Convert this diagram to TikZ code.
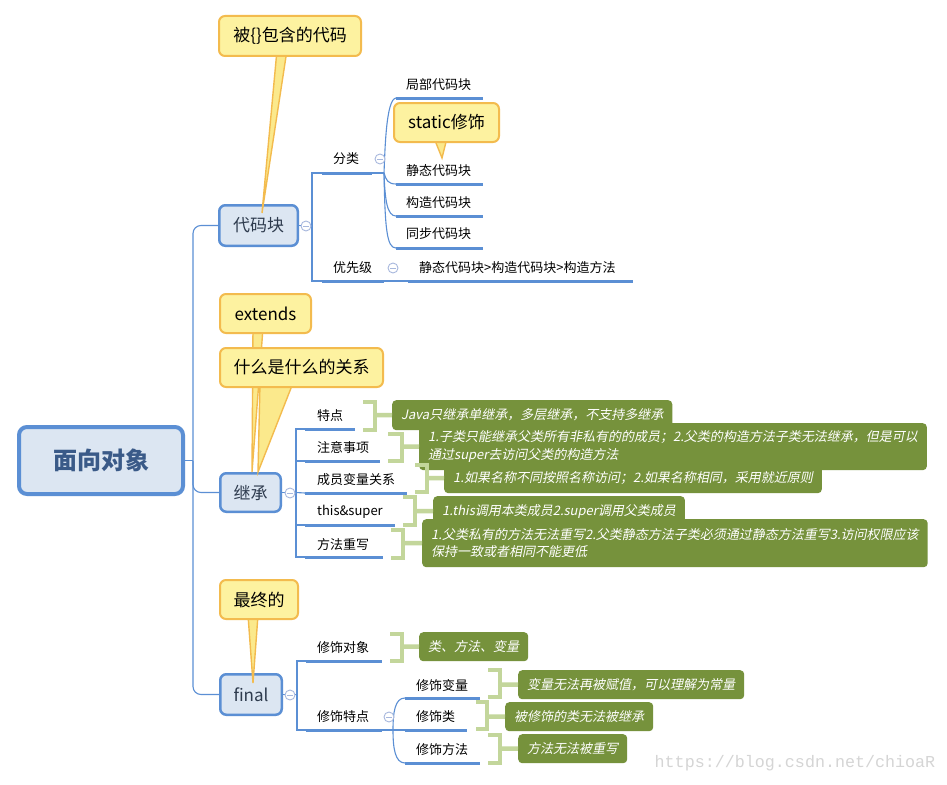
\documentclass[tikz,border=0pt]{standalone}
\usepackage{fontspec}
\setmainfont{Noto Sans CJK SC}
\newfontfamily\gfont{Noto Sans CJK SC}[FakeSlant=0.2]
\newfontfamily\wmfont{Liberation Mono}
\definecolor{lineblue}{HTML}{5B8FD4}
\definecolor{topicfill}{HTML}{DCE6F2}
\definecolor{topictext}{HTML}{2E3B4E}
\definecolor{roottext}{HTML}{3A5A88}
\definecolor{callfill}{HTML}{FDF2A0}
\definecolor{callborder}{HTML}{F3BB4E}
\definecolor{tailfill}{HTML}{FBE98C}
\definecolor{gfill}{HTML}{76923C}
\definecolor{brkgreen}{HTML}{C3D69B}
\definecolor{minuscol}{HTML}{A8B8DD}
\definecolor{wmcol}{HTML}{D5D5D5}
\begin{document}
\begin{tikzpicture}[x=1pt,y=-1pt,
  conn/.style={draw=lineblue,line width=1.1pt},
  uline/.style={draw=lineblue,line width=3pt},
  rootnode/.style={draw=lineblue,fill=topicfill,line width=4pt,rounded corners=8pt,inner sep=0pt,text=roottext,font=\bfseries\fontsize{24}{28}\selectfont},
  topic/.style={draw=lineblue,fill=topicfill,line width=2.5pt,rounded corners=6pt,inner sep=0pt,text=topictext,font=\fontsize{17}{20}\selectfont},
  callout/.style={draw=callborder,fill=callfill,line width=2pt,rounded corners=6pt,inner sep=0pt,text=black,font=\fontsize{17}{20}\selectfont},
  tail/.style={draw=callborder,fill=tailfill,line width=1.4pt,line join=miter},
  lbl/.style={anchor=west,inner sep=0pt,text=black,font=\fontsize{13}{15}\selectfont},
  gbox/.style={fill=gfill,text=white,rounded corners=4pt,inner xsep=9pt,inner ysep=0pt,align=left,anchor=north west,font=\gfont\fontsize{13}{17.5}\selectfont},
  brk/.style={draw=brkgreen,line width=4.5pt,line join=miter,line cap=butt},
  collapse/.pic={\draw[draw=minuscol,fill=white,line width=0.9pt] (0,0) circle (5pt); \draw[minuscol,line width=0.9pt] (-2.6,0) -- (2.6,0);}
]
\useasboundingbox[fill=white] (0,0) rectangle (947,784);

% ---------- main nodes ----------
\node[rootnode,minimum width=164pt,minimum height=67pt] (root) at (101,460.5) {面向对象};
\node[topic,minimum width=78.5pt,minimum height=40.5pt] (dmk) at (258.5,225.5) {代码块};
\node[topic,minimum width=60.5pt,minimum height=38.5pt] (jc) at (250.5,492.5) {继承};
\node[topic,minimum width=61.5pt,minimum height=40.5pt] (fn) at (251,694.5) {final};

% ---------- root connectors ----------
\coordinate (rootJ) at (193,460.5);
\draw[conn] (root.east) -- (rootJ);
\draw[conn,rounded corners=8pt] (rootJ) |- (dmk.west);
\draw[conn,rounded corners=8pt] (rootJ) |- (jc.west);
\draw[conn,rounded corners=8pt] (rootJ) |- (fn.west);

% ---------- 代码块 branch ----------
\coordinate (dJ) at (312,225.5);
\coordinate (flA) at (322,173); \coordinate (flB) at (372,173);
\coordinate (yxA) at (322,281); \coordinate (yxB) at (384,281);
\coordinate (flJ) at (384,173);
\draw[conn] (dmk.east) -- (dJ);
\draw[conn] (dJ) |- (flA);
\draw[conn] (dJ) |- (yxA);
\draw[conn] (flB) -- (flJ);
\coordinate (jbA) at (396,98);  \coordinate (jbB) at (483,98);
\coordinate (jtA) at (396,184); \coordinate (jtB) at (483,184);
\coordinate (gzA) at (396,216); \coordinate (gzB) at (483,216);
\coordinate (tbA) at (396,248); \coordinate (tbB) at (483,248);
\draw[conn] (flJ) .. controls (385,150) and (386,99) .. (jbA);
\draw[conn] (flJ) .. controls (386,180) and (388,184) .. (jtA);
\draw[conn] (flJ) .. controls (385,200) and (387,216) .. (gzA);
\draw[conn] (flJ) .. controls (385,230) and (387,248) .. (tbA);
\coordinate (prA) at (408,281); \coordinate (prB) at (633,281);
\draw[conn] (yxB) -- (prA);
\draw[uline] (flA) -- (flB);
\draw[uline] (yxA) -- (yxB);
\draw[uline] (jbA) -- (jbB);
\draw[uline] (jtA) -- (jtB);
\draw[uline] (gzA) -- (gzB);
\draw[uline] (tbA) -- (tbB);
\draw[uline] (prA) -- (prB);
\node[lbl] (fl) at (333,159) {分类};
\node[lbl] (yx) at (333,268) {优先级};
\node[lbl] (jb) at (406,85) {局部代码块};
\node[lbl] (jt) at (406,171) {静态代码块};
\node[lbl] (gz) at (406,203) {构造代码块};
\node[lbl] (tb) at (406,234) {同步代码块};
\node[lbl] (pr) at (419,268) {静态代码块>构造代码块>构造方法};
\pic at (306,226) {collapse};
\pic at (380,159) {collapse};
\pic at (393,268) {collapse};

% ---------- 继承 branch ----------
\coordinate (jJ) at (296,492.5);
\draw[conn] (jc.east) -- (jJ);
\coordinate (tdA) at (305,429); \coordinate (tdB) at (355,429);
\coordinate (zyA) at (305,461); \coordinate (zyB) at (380,461);
\coordinate (cyA) at (305,493); \coordinate (cyB) at (407,493);
\coordinate (tsA) at (305,525); \coordinate (tsB) at (395,525);
\coordinate (ffA) at (305,557); \coordinate (ffB) at (383,557);
\draw[conn] (jJ) |- (tdA);
\draw[conn] (jJ) |- (ffA);
\draw[conn] (jJ) -- (cyA);
\draw[conn] (296,461) -- (zyA);
\draw[conn] (296,525) -- (tsA);
\draw[uline] (tdA) -- (tdB);
\draw[uline] (zyA) -- (zyB);
\draw[uline] (cyA) -- (cyB);
\draw[uline] (tsA) -- (tsB);
\draw[uline] (ffA) -- (ffB);
\node[lbl] (td) at (317,416) {特点};
\node[lbl] (zy) at (317,448) {注意事项};
\node[lbl] (cy) at (317,480) {成员变量关系};
\node[lbl] (ts) at (317,512) {this\&super};
\node[lbl] (ff) at (317,545) {方法重写};
\pic at (290,493) {collapse};

% ---------- final branch ----------
\coordinate (fJ) at (297,694.5);
\draw[conn] (fn.east) -- (fJ);
\coordinate (xdA) at (306,661); \coordinate (xdB) at (382,661);
\coordinate (xtA) at (306,730); \coordinate (xtB) at (382,730);
\coordinate (xtJ) at (393,730);
\coordinate (blA) at (405,698); \coordinate (blB) at (480,698);
\coordinate (lA) at (405,730);  \coordinate (lB) at (467,730);
\coordinate (fsA) at (405,763); \coordinate (fsB) at (480,763);
\draw[conn] (fJ) |- (xdA);
\draw[conn] (fJ) |- (xtA);
\draw[conn] (xtB) -- (lA);
\draw[conn] (xtJ) .. controls (393,712) and (395,698) .. (blA);
\draw[conn] (xtJ) .. controls (393,748) and (395,763) .. (fsA);
\draw[uline] (xdA) -- (xdB);
\draw[uline] (xtA) -- (xtB);
\draw[uline] (blA) -- (blB);
\draw[uline] (lA) -- (lB);
\draw[uline] (fsA) -- (fsB);
\node[lbl] (xd) at (317,648) {修饰对象};
\node[lbl] (xt) at (317,717) {修饰特点};
\node[lbl] (bl) at (416,686) {修饰变量};
\node[lbl] (lei) at (416,717) {修饰类};
\node[lbl] (fs) at (416,750) {修饰方法};
\pic at (290,695) {collapse};
\pic at (389,717) {collapse};

% ---------- green summary boxes ----------
\node[gbox,minimum height=30pt] (g1) at (392,400) {Java只继承单继承，多层继承，不支持多继承};
\node[gbox,minimum height=30pt] (g3) at (444,463) {1.如果名称不同按照名称访问；2.如果名称相同，采用就近原则};
\node[gbox,minimum height=47pt] (g2) at (419,423) {1.子类只能继承父类所有非私有的的成员；2.父类的构造方法子类无法继承，但是可以\\通过super去访问父类的构造方法};
\node[gbox,minimum height=30pt] (g4) at (433,496) {1.this调用本类成员2.super调用父类成员};
\node[gbox,minimum height=48pt] (g5) at (422,519) {1.父类私有的方法无法重写2.父类静态方法子类必须通过静态方法重写3.访问权限应该\\保持一致或者相同不能更低};
\node[gbox,minimum height=29pt] (h1) at (419,632) {类、方法、变量};
\node[gbox,minimum height=29pt] (h2) at (518,670) {变量无法再被赋值，可以理解为常量};
\node[gbox,minimum height=29pt] (h3) at (505,702) {被修饰的类无法被继承};
\node[gbox,minimum height=29pt] (h4) at (518,734) {方法无法被重写};

% ---------- brackets ----------
\draw[brk] (363,402) -- (375,402) -- (375,430) -- (363,430);
\draw[brk] (375,415) -- (g1.west);
\draw[brk] (388,434) -- (402,434) -- (402,461) -- (388,461);
\draw[brk] (402,446.5) -- (g2.west);
\draw[brk] (415,465) -- (427,465) -- (427,492) -- (415,492);
\draw[brk] (427,478) -- (g3.west);
\draw[brk] (403,497) -- (415,497) -- (415,525) -- (403,525);
\draw[brk] (415,511) -- (g4.west);
\draw[brk] (391,530) -- (403,530) -- (403,558) -- (391,558);
\draw[brk] (403,543) -- (g5.west);
\draw[brk] (390,634) -- (402,634) -- (402,661) -- (390,661);
\draw[brk] (402,646.5) -- (h1.west);
\draw[brk] (488,670) -- (500,670) -- (500,697) -- (488,697);
\draw[brk] (500,684.5) -- (h2.west);
\draw[brk] (476,702) -- (487,702) -- (487,729) -- (476,729);
\draw[brk] (487,716.5) -- (h3.west);
\draw[brk] (488,735) -- (500,735) -- (500,763) -- (488,763);
\draw[brk] (500,748.5) -- (h4.west);

% ---------- callouts ----------
\filldraw[tail] (277,50) -- (262,213) -- (287,50) -- cycle;
\node[callout,minimum width=142pt,minimum height=40pt] (c1) at (290,36) {被\{\}包含的代码};
\filldraw[tail] (434,138) -- (442,158) -- (447,138) -- cycle;
\node[callout,minimum width=105pt,minimum height=39pt] (c2) at (446.5,122.5) {static修饰};
\filldraw[tail] (253,328) -- (252,472) -- (263,328) -- cycle;
\node[callout,minimum width=91pt,minimum height=39pt] (c3) at (265.5,313.5) {extends};
\filldraw[tail] (260,383) -- (258,472) -- (293,383) -- cycle;
\node[callout,minimum width=163pt,minimum height=39pt] (c4) at (301.5,367.5) {什么是什么的关系};
\filldraw[tail] (248,615) -- (253,683) -- (258,615) -- cycle;
\node[callout,minimum width=78pt,minimum height=39pt] (c5) at (259,599.5) {最终的};

% ---------- watermark ----------
\node[inner sep=0pt,text=wmcol,font=\wmfont\fontsize{16.7}{18}\selectfont] (wm) at (795,763) {https://blog.csdn.net/chioaR};
\end{tikzpicture}
\end{document}
